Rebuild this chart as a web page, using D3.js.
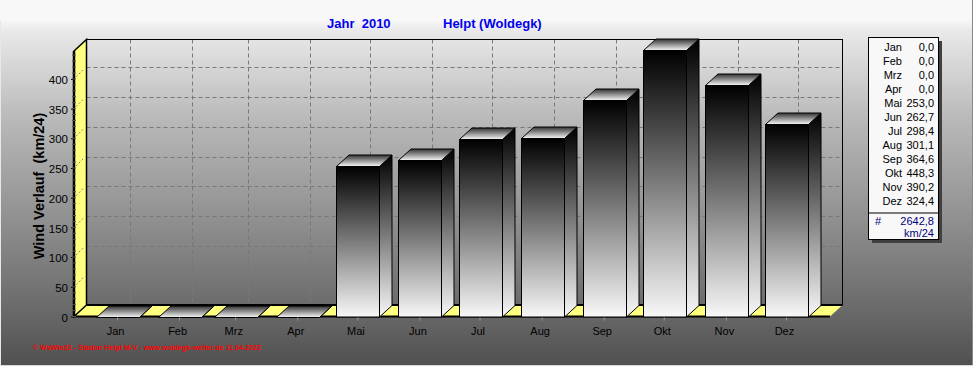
<!DOCTYPE html>
<html><head><meta charset="utf-8">
<style>html,body{margin:0;padding:0;background:#f8f8f8}svg{display:block}text{font-family:"Liberation Sans",Arial,sans-serif}</style>
<script src="https://cdn.jsdelivr.net/npm/d3@7/dist/d3.min.js"></script>
</head><body><script>
const months=["Jan","Feb","Mrz","Apr","Mai","Jun","Jul","Aug","Sep","Okt","Nov","Dez"];
const values=[0,0,0,0,253.0,262.7,298.4,301.1,364.6,448.3,390.2,324.4];
const valueLabels=["0,0","0,0","0,0","0,0","253,0","262,7","298,4","301,1","364,6","448,3","390,2","324,4"];
const yTicks=[0,50,100,150,200,250,300,350,400];
const bgStops=[[0,"#f8f8f8"],[0.055,"#f8f8f8"],[0.08,"#eaeaea"],[0.33,"#b8b8b8"],[0.546,"#989898"],[0.82,"#6e6e6e"],[1,"#505050"]];
const W=973,H=366,dx=12.5,dy=-11.5;
const monthDates=months.map((m,i)=>new Date(Date.UTC(2010,i,1)));
const x=d3.scaleUtc().domain([Date.UTC(2009,11,10,12),Date.UTC(2010,11,23)]).range([74,830]);
const y=d3.scaleLinear().domain([0,450]).range([316.5,49.2]);
const svg=d3.select("body").append("svg").attr("width",W).attr("height",H);
const defs=svg.append("defs");
const grad=(id,x2,y2,st)=>{const g=defs.append("linearGradient").attr("id",id).attr("x1",0).attr("y1",0).attr("x2",x2).attr("y2",y2);
 st.forEach(s=>g.append("stop").attr("offset",s[0]).attr("stop-color",s[1]));};
grad("bg",0,1,bgStops);
grad("front",0,1,[[0,"#000"],[1,"#f8f8f8"]]);
grad("side",0,1,[[0,"#000"],[1,"#f8f8f8"]]);
grad("top",0,1,[[0,"#333"],[1,"#f8f8f8"]]);
svg.append("rect").attr("width",W).attr("height",H).attr("fill","url(#bg)");
svg.append("rect").attr("x",0).attr("y",20).attr("width",1).attr("height",H-20).attr("fill","#e8e8e8");
svg.append("rect").attr("x",W-1).attr("y",0).attr("width",1).attr("height",H).attr("fill","#888");
svg.append("rect").attr("x",0).attr("y",H-1).attr("width",W).attr("height",1).attr("fill","#d8d8d8");
const title=svg.append("g").attr("fill","#0000ee").attr("font-weight","bold").attr("font-size",13);
title.append("text").attr("x",327).attr("y",28).attr("xml:space","preserve").text("Jahr  2010");
title.append("text").attr("x",443).attr("y",28).text("Helpt (Woldegk)");
const x0=x.range()[0],x1=x.range()[1],y0=y(0),yT=51;
const back=svg.append("g");
back.selectAll("line.h").data(yTicks.slice(1)).join("line").attr("x1",x0+dx).attr("x2",x1+dx).attr("y1",d=>Math.round(y(d)+dy)+.5).attr("y2",d=>Math.round(y(d)+dy)+.5).attr("stroke","#787878").attr("stroke-dasharray","4 3");
back.selectAll("line.v").data(monthDates).join("line").attr("x1",d=>Math.round(x(d)+dx)+.5).attr("x2",d=>Math.round(x(d)+dx)+.5).attr("y1",yT+dy).attr("y2",y0+dy).attr("stroke","#787878").attr("stroke-dasharray","4 3");
back.append("rect").attr("x",x0+dx).attr("y",yT+dy).attr("width",x1-x0).attr("height",y0-yT).attr("fill","none").attr("stroke","#000");
const yellow="#ffff80";
const poly=p=>p.map(q=>q.join(",")).join(" ");
svg.append("polygon").attr("points",poly([[x0,y0],[x0+dx,y0+dy],[x1+dx,y0+dy],[x1,y0]])).attr("fill",yellow);
svg.append("polygon").attr("points",poly([[x0,yT],[x0+dx,yT+dy],[x0+dx,y0+dy],[x0,y0]])).attr("fill",yellow).attr("stroke","#000").attr("stroke-width",1.5);
svg.selectAll("line.wall").data(yTicks.slice(1)).join("line").attr("x1",x0+2).attr("x2",x0+9).attr("y1",d=>y(d)-2).attr("y2",d=>y(d)-9).attr("stroke","#808080").attr("stroke-dasharray","2 2");
svg.append("line").attr("x1",x0+dx).attr("x2",x1+dx).attr("y1",y0+dy).attr("y2",y0+dy).attr("stroke","#000").attr("stroke-width",2);
svg.append("line").attr("x1",x0).attr("x2",x1).attr("y1",y0).attr("y2",y0).attr("stroke","#000").attr("stroke-width",2);
const bw=43,off=-21;
const bars=svg.selectAll("g.bar").data(values).join("g");
bars.each(function(v,i){
 const g=d3.select(this),l=Math.round(x(monthDates[i])+off)+.5,r=l+bw,t=Math.round(y(v))+.5,b=Math.round(y0);
 g.append("polygon").attr("points",poly([[r,t],[r+dx,t+dy],[r+dx,b+dy],[r,b]])).attr("fill","url(#side)").attr("stroke","#000");
 g.append("polygon").attr("points",poly([[l,t],[l+dx,t+dy],[r+dx,t+dy],[r,t]])).attr("fill","url(#top)").attr("stroke","#000");
 if(v>0) g.append("rect").attr("x",l).attr("y",t).attr("width",bw).attr("height",b-t).attr("fill","url(#front)").attr("stroke","#000");
});
const axL=d3.axisLeft(y).tickValues(yTicks).tickSize(3).tickPadding(3);
const gL=svg.append("g").attr("transform",`translate(${x0},0)`).call(axL);
gL.select(".domain").attr("stroke-width",2.5).attr("d",`M0,${yT}V${y0}`);
gL.selectAll("text").attr("font-size",11.5).attr("fill","#000").attr("dy","0.4em").style("font-family","'Liberation Sans',Arial,sans-serif");
gL.selectAll("line").attr("stroke","#000");
const minor=d3.range(0,450,10);
svg.append("g").selectAll("line").data(minor).join("line").attr("x1",x0-2).attr("x2",x0+2).attr("y1",d=>y(d)).attr("y2",d=>y(d)).attr("stroke","#555");
const axB=d3.axisBottom(x).tickValues(monthDates).tickFormat((d,i)=>months[i]).tickSize(3).tickPadding(7);
const gB=svg.append("g").attr("transform",`translate(0,${y0+1})`).call(axB);
gB.select(".domain").remove();
gB.selectAll("line").attr("stroke","#999");
gB.selectAll("text").attr("font-size",11).attr("fill","#000").attr("dx",-2).style("font-family","'Liberation Sans',Arial,sans-serif");
svg.append("text").attr("transform","translate(44,186) rotate(-90)").attr("text-anchor","middle").attr("font-weight","bold").attr("font-size",14.5).attr("xml:space","preserve").text("Wind Verlauf  (km/24)");
svg.append("text").attr("x",33).attr("y",350).attr("fill","#ff0000").attr("font-size",7).attr("font-weight","bold").attr("textLength",228).text("© WsWin32 - Station Helpt M-V - www.woldegk-wetter.de  11.04.2022");
const lg=svg.append("g");
lg.append("rect").attr("x",872).attr("y",41).attr("width",70).attr("height",202).attr("fill","#404040");
lg.append("rect").attr("x",868.5).attr("y",37.5).attr("width",70).attr("height",202).attr("fill","#f8f8f8").attr("stroke","#000");
lg.append("line").attr("x1",868.5).attr("x2",938.5).attr("y1",213).attr("y2",213).attr("stroke","#000");
const rows=lg.selectAll("g.r").data(months).join("g").attr("transform",(d,i)=>`translate(0,${50.5+i*14})`).attr("font-size",11).attr("fill","#000").attr("text-anchor","end");
rows.append("text").attr("x",902).text(d=>d);
rows.append("text").attr("x",934).text((d,i)=>valueLabels[i]);
const tot=lg.append("g").attr("font-size",11).attr("fill","#000080");
tot.append("text").attr("x",875).attr("y",225).text("#");
tot.append("text").attr("x",934).attr("y",225).attr("text-anchor","end").text("2642,8");
tot.append("text").attr("x",934).attr("y",237).attr("text-anchor","end").text("km/24");
</script></body></html>
